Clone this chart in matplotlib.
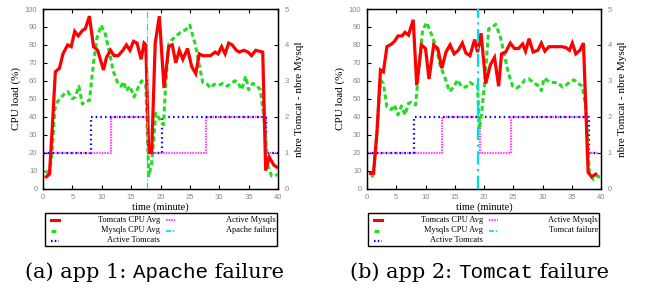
import matplotlib
matplotlib.use("Agg")
import matplotlib.pyplot as plt
from matplotlib.lines import Line2D
from matplotlib.patches import Rectangle

W, H = 649, 289

# ---------------- data: panel (a) app 1, Apache failure ----------------
a_tomcat_t = [0.56, 1.1, 1.6, 2.1, 2.8, 3.4, 4.2, 4.8, 5.4, 6.0, 6.7, 7.2, 7.9, 8.6, 9.3, 10.3,
              10.8, 11.5, 12.1, 12.8, 13.6, 14.2, 14.8, 15.4, 16.0, 16.7, 17.2, 17.5, 18.0, 18.5,
              19.1, 19.8, 20.6, 21.4, 22.0, 22.6, 23.2, 23.8, 24.6, 25.3, 26.0, 26.6, 27.2, 28.0,
              28.5, 29.3, 29.8, 30.4, 31.0, 31.6, 32.2, 32.9, 33.4, 34.2, 34.9, 35.5, 36.2, 36.8,
              37.4, 37.9, 38.5, 39.3, 40.0]
a_tomcat_v = [6.5, 8, 35, 65, 67, 75, 80, 79, 87.5, 85, 88, 89, 96, 79, 77, 66,
              73, 77, 74, 74, 77, 80, 77, 82, 81, 72, 81, 80, 20, 20,
              81, 96, 56, 79, 80, 70, 77, 72, 78, 68, 64, 75, 74, 74,
              74, 76, 75, 79, 75, 81, 80, 77, 76, 77, 76, 74, 77, 76.5,
              76, 10, 17.5, 13, 11.5]
a_mysql_t = [0.5, 1.1, 1.6, 2.0, 2.4, 2.9, 3.7, 4.2, 5.0, 5.5, 6.1, 6.7, 7.2, 7.9, 8.6, 9.2,
             9.9, 10.6, 11.3, 12.0, 12.7, 13.3, 13.7, 14.2, 14.8, 15.5, 16.3, 16.8, 17.5, 18.0,
             18.5, 19.2, 19.8, 20.5, 20.9, 21.4, 22.0, 22.7, 23.4, 24.3, 25.0, 25.9, 26.6, 27.2,
             28.0, 28.5, 29.1, 29.9, 30.6, 31.4, 31.9, 32.7, 33.2, 33.8, 34.5, 35.0, 35.7, 36.3,
             37.0, 37.6, 38.3, 38.9, 39.5, 40.0]
a_mysql_v = [10, 7, 23, 44, 48, 50, 53, 54, 50, 51, 57, 47, 48.5, 49, 70, 84,
             91, 86, 76, 65, 59, 57, 59.5, 54.5, 57, 51, 57, 60, 57.5, 7,
             14, 42, 39, 35.5, 58.5, 80.5, 83, 85, 87, 88.5, 91, 80.5, 68.5, 59,
             58, 56, 58, 57.5, 58.5, 57, 58.5, 60, 59, 55, 62.5, 55, 58.5, 57.5,
             55, 40, 12.5, 7, 7, 8]
a_act_tomcat_t = [0, 8.1, 17.9, 20.2, 37.9, 40]
a_act_tomcat_v = [1, 2, 1, 2, 1, 1]
a_act_mysql_t = [0, 11.6, 17.9, 27.7, 37.9, 40]
a_act_mysql_v = [1, 2, 1, 2, 1, 1]
a_failure_t = 17.7

# ---------------- data: panel (b) app 2, Tomcat failure ----------------
b_tomcat_t = [0.6, 1.1, 1.7, 2.3, 2.8, 3.4, 4.2, 4.7, 5.3, 6.0, 6.5, 7.1, 7.9, 8.5, 9.3, 10.0,
              10.6, 11.4, 12.1, 12.8, 13.5, 14.2, 14.9, 15.6, 16.3, 16.9, 17.6, 18.4, 18.9, 19.5,
              20.3, 21.1, 21.8, 22.5, 23.0, 23.7, 24.5, 25.2, 25.9, 26.6, 27.1, 27.7, 28.4, 29.2,
              29.8, 30.4, 31.1, 31.9, 32.6, 33.3, 34.0, 34.6, 35.1, 35.7, 36.4, 37.0, 37.8, 38.4,
              39.1]
b_tomcat_v = [8.5, 8.5, 31, 66, 65, 79, 80.5, 82, 85, 85, 87, 85.5, 94, 57.5, 80, 78,
              61, 80, 78, 67, 76, 80, 75, 77, 81, 75.5, 74, 83, 76, 86.5,
              58.5, 69, 73, 57, 75, 76, 81, 78, 78, 80.5, 76.5, 83.5, 76, 77,
              81, 76.5, 79, 79, 79, 79, 78.5, 77, 81, 75, 77, 81, 9, 6.5,
              8]
b_mysql_t = [0.6, 1.1, 1.7, 2.3, 2.8, 3.4, 4.2, 4.7, 5.3, 5.9, 6.5, 7.1, 7.6, 8.3, 8.9, 9.5,
             10.2, 11.0, 11.8, 12.5, 13.3, 14.1, 14.8, 15.5, 16.2, 16.9, 17.6, 18.4, 18.9, 19.2,
             19.6, 20.2, 20.8, 21.5, 22.0, 22.8, 23.5, 24.2, 24.9, 25.6, 26.3, 27.0, 27.7, 28.4,
             29.2, 29.8, 30.3, 31.1, 31.9, 32.6, 33.4, 34.0, 34.7, 35.4, 36.1, 36.8, 37.4, 38.0,
             38.7, 39.4, 40.0]
b_mysql_v = [8.5, 6, 31, 60.5, 58.5, 45.5, 44, 46.5, 41, 46, 41, 47.5, 48, 46.5, 67.5, 88,
             92.5, 86, 79, 68.5, 62, 54, 56.5, 60.5, 56.5, 56.5, 59, 57.5, 57.5, 33,
             42, 62, 89, 90, 91.5, 84.5, 74, 64, 57, 56, 57.5, 60.5, 61, 59,
             57.5, 54.5, 61.5, 59.5, 59, 59, 56.5, 57.5, 59.5, 60.5, 58.5, 57, 45.5, 9,
             5, 7, 6]
b_act_tomcat_t = [0, 8.1, 38.0, 39.5]
b_act_tomcat_v = [1, 2, 1, 1]
b_act_mysql_t = [0, 12.8, 19.35, 24.6, 37.55, 39.5]
b_act_mysql_v = [1, 2, 1, 2, 1, 1]
b_failure_t = 19.0

x_ticks = list(range(0, 41, 5))
cpu_ticks = list(range(0, 101, 10))
count_ticks = list(range(0, 6))

RED = "#ff0000"
GREEN = "#22dd22"
BLUE = "#0000ff"
MAGENTA = "#ff44ff"
CYAN = "#00dde8"
GREY = "#888888"
SERIF = ["Liberation Serif", "DejaVu Serif"]
CAPSERIF = ["DejaVu Serif"]
SANS = ["Liberation Sans", "DejaVu Sans"]
MONO = ["Liberation Mono", "DejaVu Sans Mono"]

fig = plt.figure(figsize=(W / 100, H / 100), dpi=100)


def fx(x):
    return x / W


def fy(y):
    return 1 - y / H


def panel(x0, x1, tom_t, tom_v, my_t, my_v, at_t, at_v, am_t, am_v, fail_t, fail_lw):
    ax = fig.add_axes([fx(x0), fy(188.5), fx(x1 - x0), (188.5 - 9) / H])
    ax.plot(tom_t, tom_v, color=RED, lw=2.3, solid_joinstyle="miter", zorder=5)
    ax.plot(my_t, my_v, color=GREEN, lw=2.2, ls=(0, (1.6, 1.0)), zorder=4)
    ax.axvline(fail_t, color=CYAN, lw=fail_lw, ls=(0, (6, 2, 1, 2)), zorder=6)
    ax.set_xlim(0, 40)
    ax.set_ylim(0, 100)
    ax.set_xticks(x_ticks)
    ax.set_yticks(cpu_ticks)
    ax.tick_params(direction="in", length=3, width=0.8, top=True, labelsize=5.5,
                   labelcolor=GREY, pad=4)
    for lab in ax.get_xticklabels() + ax.get_yticklabels():
        lab.set_family(SANS)
    ax.set_xlabel("time (minute)", family=SERIF, fontsize=7.5, labelpad=1)
    ax.set_ylabel("CPU load (%)", family=SERIF, fontsize=8, labelpad=3)
    for s in ax.spines.values():
        s.set_linewidth(1.0)
    ax2 = ax.twinx()
    ax2.plot(am_t, am_v, color=MAGENTA, lw=1.6, ls=(0, (0.7, 0.5)), drawstyle="steps-post", zorder=3)
    ax2.plot(at_t, at_v, color=BLUE, lw=1.6, ls=(0, (0.7, 1.4)), drawstyle="steps-post", zorder=3)
    ax2.set_ylim(0, 5)
    ax2.set_yticks(count_ticks)
    ax2.tick_params(direction="in", length=3, width=0.8, labelsize=5.5, labelcolor=GREY, pad=5)
    for lab in ax2.get_yticklabels():
        lab.set_family(SANS)
    ax2.set_ylabel("nbre Tomcat - nbre Mysql", family=SERIF, fontsize=8, labelpad=4)
    ax.set_zorder(ax2.get_zorder() + 1)
    ax.patch.set_visible(False)
    return ax


panel(43, 278, a_tomcat_t, a_tomcat_v, a_mysql_t, a_mysql_v, a_act_tomcat_t, a_act_tomcat_v,
      a_act_mysql_t, a_act_mysql_v, a_failure_t, 0.8)
panel(367, 601, b_tomcat_t, b_tomcat_v, b_mysql_t, b_mysql_v, b_act_tomcat_t, b_act_tomcat_v,
      b_act_mysql_t, b_act_mysql_v, b_failure_t, 1.6)


def legend(x0, x1, fail_label):
    fig.patches.append(Rectangle((fx(x0), fy(246)), fx(x1 - x0), (246 - 213) / H,
                                 transform=fig.transFigure, fill=False, ec="black", lw=1.0))
    rows = [219.5, 230.5, 240.5]
    c1s, c1e = x0 + 5.5, x0 + 14
    c1t = x0 + 115
    c2s, c2e = x0 + 121, x0 + 130
    c2t = x1 - 1
    entries = [
        (c1s, c1e, c1t, rows[0], "Tomcats CPU Avg", dict(color=RED, lw=2.2)),
        (c1s, c1e, c1t, rows[1], "Mysqls CPU Avg", dict(color=GREEN, lw=2.2, ls=(0, (1.6, 1.0)))),
        (c1s, c1e, c1t, rows[2], "Active Tomcats", dict(color=BLUE, lw=1.6, ls=(0, (0.7, 1.0)))),
        (c2s, c2e, c2t, rows[0], "Active Mysqls", dict(color=MAGENTA, lw=1.6, ls=(0, (0.7, 0.5)))),
        (c2s, c2e, c2t, rows[1], fail_label, dict(color=CYAN, lw=1.2, ls=(0, (3, 1, 1, 1)))),
    ]
    for s, e, t, y, label, kw in entries:
        fig.lines.append(Line2D([fx(s), fx(e)], [fy(y), fy(y)], transform=fig.transFigure, **kw))
        fig.text(fx(t), fy(y), label, ha="right", va="center", family=SERIF, fontsize=6)


legend(45, 277, "Apache failure")
legend(368, 599, "Tomcat failure")


def caption(cx, cy, parts):
    renderer = fig.canvas.get_renderer()
    texts = []
    for s, fam in parts:
        texts.append(fig.text(0, fy(cy), s, family=fam, fontsize=15, va="center", ha="left"))
    widths = [t.get_window_extent(renderer).width for t in texts]
    total = sum(widths)
    x = cx - total / 2
    for t, w in zip(texts, widths):
        t.set_x(fx(x))
        x += w


caption(154.5, 272, [("(a) app 1: ", CAPSERIF), ("Apache", MONO), (" failure", CAPSERIF)])
caption(479.5, 272, [("(b) app 2: ", CAPSERIF), ("Tomcat", MONO), (" failure", CAPSERIF)])

fig.savefig("out.png", dpi=100)
